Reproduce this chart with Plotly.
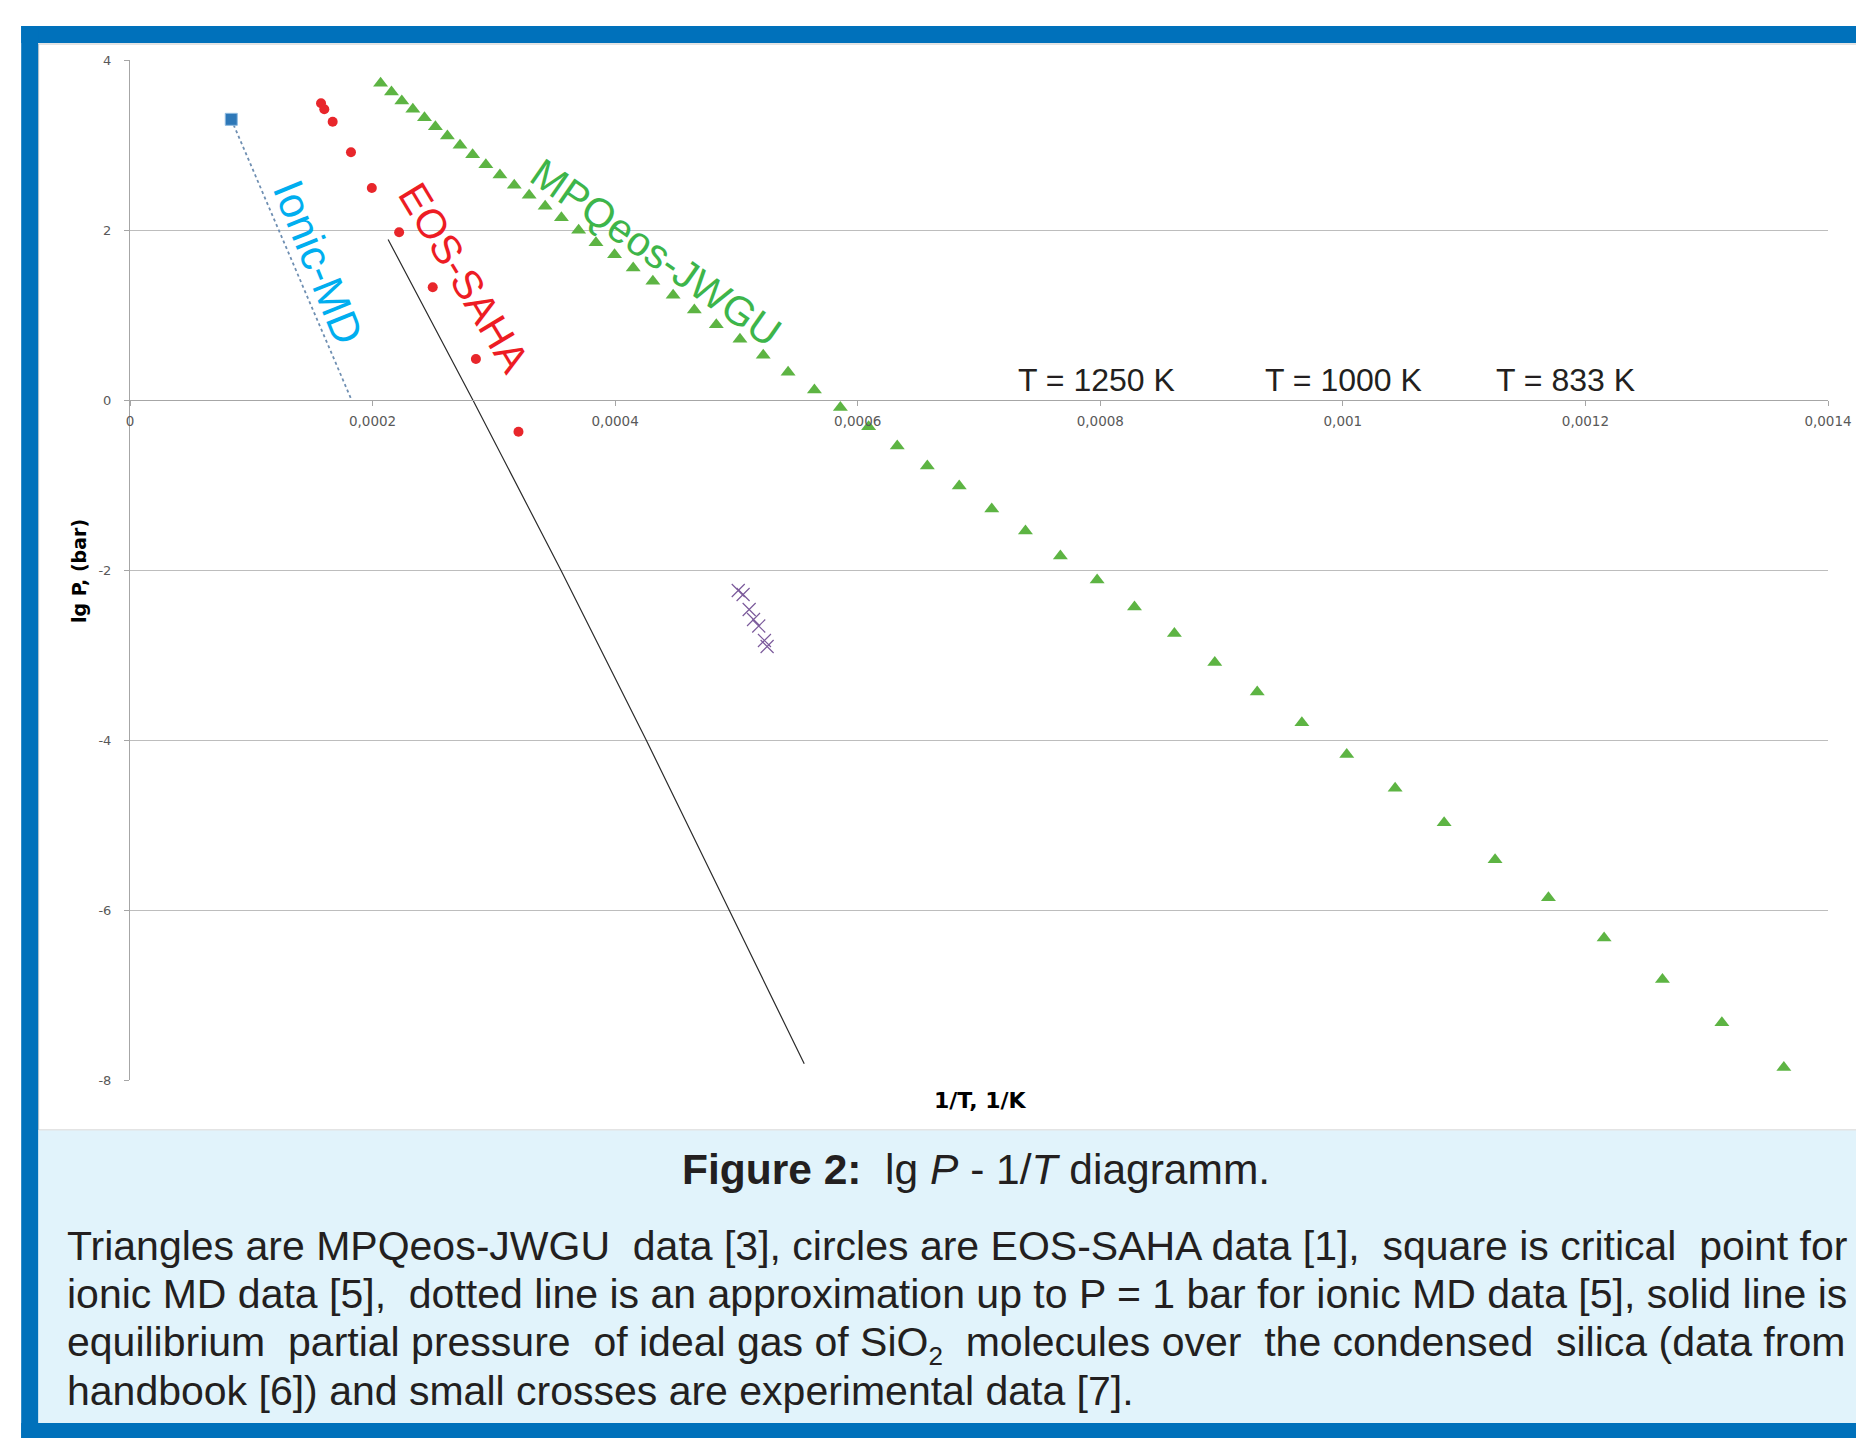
import plotly.graph_objects as go

# ---------------- data ----------------
mpq_x = [2.066e-4, 2.156e-4, 2.241e-4, 2.332e-4, 2.428e-4, 2.518e-4, 2.617e-4, 2.721e-4, 2.825e-4, 2.934e-4,
         3.050e-4, 3.168e-4, 3.291e-4, 3.423e-4, 3.557e-4, 3.699e-4, 3.842e-4, 3.995e-4, 4.149e-4, 4.311e-4,
         4.478e-4, 4.653e-4, 4.834e-4, 5.029e-4, 5.221e-4, 5.426e-4, 5.643e-4, 5.857e-4, 6.090e-4, 6.326e-4,
         6.574e-4, 6.837e-4, 7.105e-4, 7.383e-4, 7.671e-4, 7.974e-4, 8.282e-4, 8.611e-4, 8.944e-4, 9.294e-4,
         9.662e-4, 1.0032e-3, 1.0431e-3, 1.0835e-3, 1.1255e-3, 1.1695e-3, 1.2154e-3, 1.2635e-3, 1.3125e-3, 1.3636e-3]
mpq_y = [3.726, 3.624, 3.518, 3.420, 3.321, 3.215, 3.106, 2.996, 2.886, 2.768,
         2.647, 2.526, 2.408, 2.279, 2.145, 1.996, 1.851, 1.709, 1.553, 1.396,
         1.232, 1.059, 0.886, 0.714, 0.526, 0.326, 0.118, -0.088, -0.314, -0.541,
         -0.776, -1.012, -1.282, -1.541, -1.835, -2.118, -2.435, -2.747, -3.088, -3.435,
         -3.798, -4.171, -4.569, -4.974, -5.409, -5.856, -6.329, -6.818, -7.327, -7.852]

saha_x = [1.575e-4, 1.602e-4, 1.671e-4, 1.822e-4, 1.994e-4, 2.219e-4, 2.496e-4, 2.852e-4, 3.203e-4]
saha_y = [3.491, 3.420, 3.274, 2.914, 2.494, 1.973, 1.326, 0.482, -0.373]

md_crit_x = [8.35e-5]
md_crit_y = [3.302]
md_fit_x = [8.35e-5, 1.827e-4]
md_fit_y = [3.302, 0.0]

ideal_x = [2.128e-4, 2.827e-4, 3.552e-4, 4.256e-4, 4.940e-4, 5.559e-4]
ideal_y = [1.889, 0.0, -2.0, -4.0, -6.0, -7.809]

exp_x = [5.015e-4, 5.055e-4, 5.105e-4, 5.141e-4, 5.184e-4, 5.231e-4, 5.253e-4]
exp_y = [-2.241, -2.288, -2.465, -2.582, -2.659, -2.829, -2.900]

x_ticks = [0, 0.0002, 0.0004, 0.0006, 0.0008, 0.001, 0.0012, 0.0014]
x_ticktext = ["0", "0,0002", "0,0004", "0,0006", "0,0008", "0,001", "0,0012", "0,0014"]
y_ticks = [-8, -6, -4, -2, 0, 2, 4]
y_ticktext = ["-8", "-6", "-4", "-2", "0", "2", "4"]

t_labels = ["T = 1250 K", "T = 1000 K", "T = 833 K"]
t_label_x = [7.965e-4, 1.0008e-3, 1.1838e-3]
t_label_y = 0.24

series_labels = ["Ionic-MD", "EOS-SAHA", "MPQeos-JWGU"]
series_label_x = [1.55e-4, 2.751e-4, 4.338e-4]
series_label_y = [1.62, 1.43, 1.73]
series_label_angle = [68, 59, 35]
series_label_color = ["#00aeef", "#ed1c24", "#3db54a"]

NB = "\u00a0"
caption_title = "<b>Figure 2:</b>  lg <i>P</i> - 1/<i>T</i> diagramm."
caption_lines = [
    "Triangles are MPQeos-JWGU" + NB + " data [3], circles are EOS-SAHA data [1],  square is critical" + NB + " point for",
    "ionic MD data [5]," + NB + " dotted line is an approximation up to P = 1 bar for ionic MD data [5], solid line is",
    "equilibrium" + NB + " partial pressure" + NB + " of ideal gas of SiO<sub><span style='font-size:26px'>2</span></sub>"
    + NB + " molecules over" + NB + " the condensed" + NB + " silica (data from",
    "handbook [6]) and small crosses are experimental data [7].",
]

# ---------------- layout geometry ----------------
# the page has an 8 px body margin, so the figure starts at screen (8, 8)
OFF = 8
W, H = 1864 - OFF, 1438 - OFF
PL, PT, PW, PH = 130, 60, 1701, 1020          # plot area in screen pixels
ML, MT = PL - OFF, PT - OFF
MR, MB = W - ML - PW, H - MT - PH


def px(x):
    return (x - PL) / PW


def py(y):
    return (PT + PH - y) / PH


BLUE = "#0071bb"
LIGHT = "#e1f3fb"

fig = go.Figure()

fig.add_trace(go.Scatter(x=md_fit_x, y=md_fit_y, mode="lines",
                         line=dict(color="#6f8fb2", width=1.8, dash="dot"), hoverinfo="skip"))
fig.add_trace(go.Scatter(x=ideal_x, y=ideal_y, mode="lines",
                         line=dict(color="#2b2b2b", width=1.2), hoverinfo="skip"))
fig.add_trace(go.Scatter(x=mpq_x, y=mpq_y, mode="markers",
                         marker=dict(symbol="triangle-up", size=13, color="#5db443"), hoverinfo="skip"))
fig.add_trace(go.Scatter(x=saha_x, y=saha_y, mode="markers",
                         marker=dict(symbol="circle", size=10, color="#e8262b"), hoverinfo="skip"))
fig.add_trace(go.Scatter(x=md_crit_x, y=md_crit_y, mode="markers",
                         marker=dict(symbol="square", size=12, color="#2e78b8",
                                     line=dict(color="#8fbbe0", width=1)), hoverinfo="skip"))
fig.add_trace(go.Scatter(x=exp_x, y=exp_y, mode="markers",
                         marker=dict(symbol="x-thin", size=13, color="#7b5a9b",
                                     line=dict(color="#7b5a9b", width=1.2)), hoverinfo="skip"))

shapes = [
    dict(type="rect", xref="paper", yref="paper", x0=px(38.5), x1=px(1880), y0=py(1130), y1=py(44),
         fillcolor="white", line=dict(color="#c8c8c8", width=1), layer="below"),
    dict(type="rect", xref="paper", yref="paper", x0=px(38), x1=px(1880), y0=py(1423), y1=py(1130.5),
         fillcolor=LIGHT, line=dict(width=0), layer="below"),
    dict(type="rect", xref="paper", yref="paper", x0=px(21), x1=px(1880), y0=py(43), y1=py(26),
         fillcolor=BLUE, line=dict(width=0), layer="below"),
    dict(type="rect", xref="paper", yref="paper", x0=px(21), x1=px(38), y0=py(1450), y1=py(26),
         fillcolor=BLUE, line=dict(width=0), layer="below"),
    dict(type="rect", xref="paper", yref="paper", x0=px(21), x1=px(1880), y0=py(1450), y1=py(1423),
         fillcolor=BLUE, line=dict(width=0), layer="below"),
]

annotations = []
for txt, xv in zip(t_labels, t_label_x):
    annotations.append(dict(x=xv, y=t_label_y, xref="x", yref="y", text=txt, showarrow=False,
                            xanchor="center", yanchor="middle",
                            font=dict(family="Liberation Sans, Arial", size=32, color="#231f20")))
for txt, xv, yv, ang, col, fs in zip(series_labels, series_label_x, series_label_y,
                                     series_label_angle, series_label_color, [43, 41, 41]):
    annotations.append(dict(x=xv, y=yv, xref="x", yref="y", text=txt, showarrow=False,
                            textangle=ang, xanchor="center", yanchor="middle",
                            font=dict(family="Liberation Sans, Arial", size=fs, color=col)))

annotations.append(dict(x=px(982), y=py(1100), xref="paper", yref="paper", text="<b>1/T, 1/K</b>",
                        showarrow=False, xanchor="center", yanchor="middle",
                        font=dict(family="DejaVu Sans", size=22, color="#000000")))
annotations.append(dict(x=px(79), y=py(571), xref="paper", yref="paper", text="<b>lg P, (bar)</b>",
                        showarrow=False, textangle=-90, xanchor="center", yanchor="middle",
                        font=dict(family="DejaVu Sans", size=19, color="#000000")))

annotations.append(dict(x=px(977), y=py(1169), xref="paper", yref="paper", text=caption_title,
                        showarrow=False, xanchor="center", yanchor="middle",
                        font=dict(family="Liberation Sans, Arial", size=42.5, color="#231f20")))
line_y = [1246, 1294, 1345, 1391]
for txt, yy in zip(caption_lines, line_y):
    annotations.append(dict(x=px(65), y=py(yy), xref="paper", yref="paper", text=txt,
                            showarrow=False, xanchor="left", yanchor="middle",
                            font=dict(family="Liberation Sans, Arial", size=41, color="#231f20")))

fig.update_layout(
    width=W, height=H,
    margin=dict(l=ML, r=MR, t=MT, b=MB, pad=0),
    paper_bgcolor="white", plot_bgcolor="rgba(0,0,0,0)",
    showlegend=False, hovermode=False,
    shapes=shapes, annotations=annotations,
    xaxis=dict(range=[0, 0.0014], anchor="free", position=8 / 12,
               tickvals=x_ticks, ticktext=x_ticktext, ticks="outside", ticklen=5,
               tickcolor="#a6a6a6", showline=True, linecolor="#a6a6a6", linewidth=1,
               showgrid=False, zeroline=False, ticklabelstandoff=4,
               tickfont=dict(family="DejaVu Sans", size=13.5, color="#595959")),
    yaxis=dict(range=[-8, 4], tickvals=y_ticks, ticktext=y_ticktext, ticks="outside", ticklen=5,
               tickcolor="#a6a6a6", showline=True, linecolor="#a6a6a6", linewidth=1,
               showgrid=True, gridcolor="#bdbdbd", gridwidth=1, zeroline=False,
               ticklabelstandoff=10,
               tickfont=dict(family="DejaVu Sans", size=13, color="#595959")),
)

fig.write_html("out.html")
